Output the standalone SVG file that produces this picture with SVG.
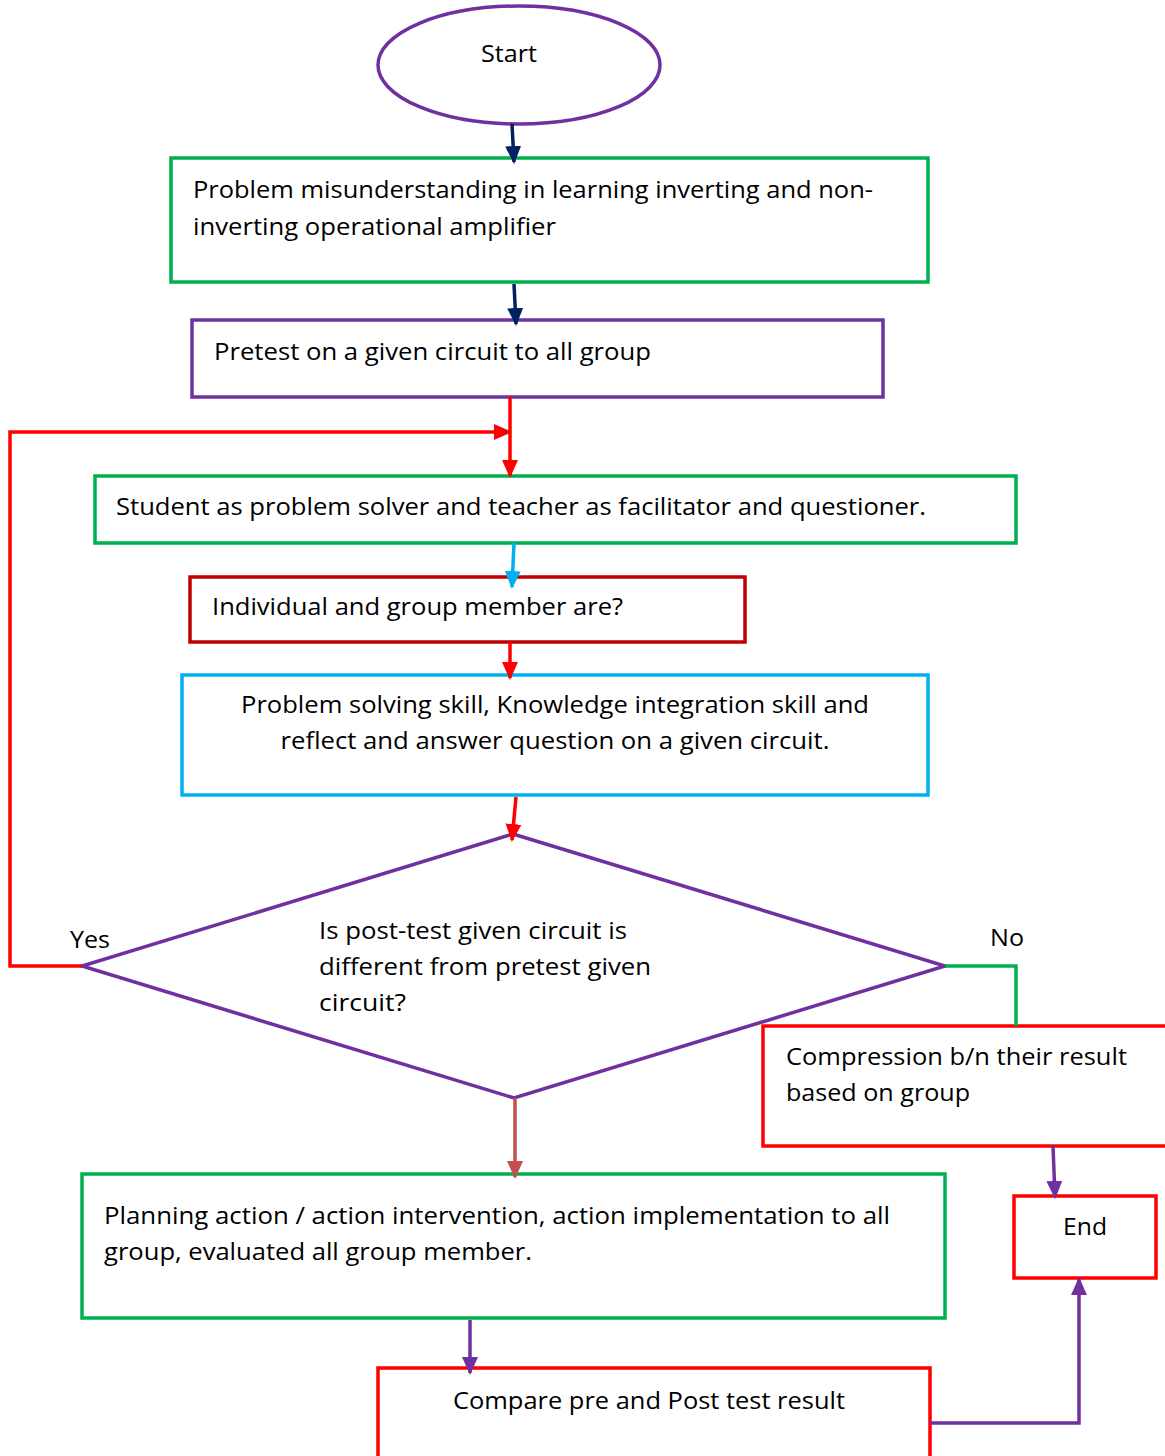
<svg xmlns="http://www.w3.org/2000/svg" width="1165" height="1456" viewBox="0 0 1165 1456">
<defs>
<style>
text{font-family:"Open Sans","Noto Sans",sans-serif;font-size:24px;fill:#000}
.n{fill:#fff;stroke-width:3.5}
.c{fill:none;stroke-width:3.5}
</style>
<marker id="aN" markerWidth="18" markerHeight="18" refX="16" refY="9" orient="auto" markerUnits="userSpaceOnUse"><path d="M0,1 L18,9 L0,17 z" fill="#002060"/></marker>
<marker id="aR" markerWidth="18" markerHeight="18" refX="16" refY="9" orient="auto" markerUnits="userSpaceOnUse"><path d="M0,1 L18,9 L0,17 z" fill="#FF0000"/></marker>
<marker id="aC" markerWidth="18" markerHeight="18" refX="16" refY="9" orient="auto" markerUnits="userSpaceOnUse"><path d="M0,1 L18,9 L0,17 z" fill="#00B0F0"/></marker>
<marker id="aP" markerWidth="18" markerHeight="18" refX="16" refY="9" orient="auto" markerUnits="userSpaceOnUse"><path d="M0,1 L18,9 L0,17 z" fill="#7030A0"/></marker>
<marker id="aB" markerWidth="18" markerHeight="18" refX="16" refY="9" orient="auto" markerUnits="userSpaceOnUse"><path d="M0,1 L18,9 L0,17 z" fill="#C0504D"/></marker>
</defs>
<rect width="1165" height="1456" fill="#fff"/>
<g id="start"><ellipse class="n" cx="519" cy="65" rx="141" ry="59" stroke="#7030A0"/><text x="509" y="62" text-anchor="middle" textLength="56" lengthAdjust="spacingAndGlyphs">Start</text></g>
<g id="problem"><rect class="n" x="171" y="158" width="757" height="124" stroke="#00B050"/><text x="193" y="198" textLength="680" lengthAdjust="spacingAndGlyphs">Problem misunderstanding in learning inverting and non-</text><text x="193" y="235" textLength="363" lengthAdjust="spacingAndGlyphs">inverting operational amplifier</text></g>
<g id="pretest"><rect class="n" x="192" y="320" width="691" height="77" stroke="#7030A0"/><text x="214" y="360" textLength="437" lengthAdjust="spacingAndGlyphs">Pretest on a given circuit to all group</text></g>
<g id="student"><rect class="n" x="95" y="476" width="921" height="67" stroke="#00B050"/><text x="116" y="515" textLength="810" lengthAdjust="spacingAndGlyphs">Student as problem solver and teacher as facilitator and questioner.</text></g>
<g id="individual"><rect class="n" x="190" y="577" width="555" height="65" stroke="#C00000"/><text x="212" y="615" textLength="411" lengthAdjust="spacingAndGlyphs">Individual and group member are?</text></g>
<g id="skills"><rect class="n" x="182" y="675" width="746" height="120" stroke="#00B0F0"/><text x="555" y="713" text-anchor="middle" textLength="628" lengthAdjust="spacingAndGlyphs">Problem solving skill, Knowledge integration skill and</text><text x="555" y="749" text-anchor="middle" textLength="549" lengthAdjust="spacingAndGlyphs">reflect and answer question on a given circuit.</text></g>
<g id="decision"><polygon class="n" points="513,834 945,966 514,1098 82,966" stroke="#7030A0"/><text x="319" y="939" textLength="308" lengthAdjust="spacingAndGlyphs">Is post-test given circuit is</text><text x="319" y="975" textLength="332" lengthAdjust="spacingAndGlyphs">different from pretest given</text><text x="319" y="1011" textLength="87" lengthAdjust="spacingAndGlyphs">circuit?</text></g>
<g id="compression"><rect class="n" x="763" y="1026" width="420" height="120" stroke="#FF0000"/><text x="786" y="1065" textLength="341" lengthAdjust="spacingAndGlyphs">Compression b/n their result</text><text x="786" y="1101" textLength="184" lengthAdjust="spacingAndGlyphs">based on group</text></g>
<g id="end"><rect class="n" x="1014" y="1196" width="142" height="82" stroke="#FF0000"/><text x="1085" y="1235" text-anchor="middle" textLength="44" lengthAdjust="spacingAndGlyphs">End</text></g>
<g id="planning"><rect class="n" x="82" y="1174" width="863" height="144" stroke="#00B050"/><text x="104" y="1224" textLength="786" lengthAdjust="spacingAndGlyphs">Planning action / action intervention, action implementation to all</text><text x="104" y="1260" textLength="428" lengthAdjust="spacingAndGlyphs">group, evaluated all group member.</text></g>
<g id="compare"><rect class="n" x="378" y="1368" width="552" height="110" stroke="#FF0000"/><text x="649" y="1409" text-anchor="middle" textLength="392" lengthAdjust="spacingAndGlyphs">Compare pre and Post test result</text></g>
<g id="connectors">
<line class="c" x1="512" y1="124" x2="514" y2="162" stroke="#002060" marker-end="url(#aN)"/>
<line class="c" x1="514" y1="284" x2="516" y2="324" stroke="#002060" marker-end="url(#aN)"/>
<line class="c" x1="510" y1="397" x2="510" y2="476" stroke="#FF0000" marker-end="url(#aR)"/>
<polyline class="c" points="82,966 10,966 10,432 510,432" stroke="#FF0000" marker-end="url(#aR)"/>
<line class="c" x1="514" y1="543" x2="512" y2="587" stroke="#00B0F0" marker-end="url(#aC)"/>
<line class="c" x1="510" y1="642" x2="510" y2="678" stroke="#FF0000" marker-end="url(#aR)"/>
<line class="c" x1="516" y1="797" x2="512" y2="840" stroke="#FF0000" marker-end="url(#aR)"/>
<polyline class="c" points="945,966 1016,966 1016,1026" stroke="#00B050"/>
<line class="c" x1="1053" y1="1146" x2="1055" y2="1197" stroke="#7030A0" marker-end="url(#aP)"/>
<line class="c" x1="515" y1="1098" x2="515" y2="1177" stroke="#C0504D" marker-end="url(#aB)"/>
<line class="c" x1="470" y1="1320" x2="470" y2="1373" stroke="#7030A0" marker-end="url(#aP)"/>
<polyline class="c" points="930,1423 1079,1423 1079,1279" stroke="#7030A0" marker-end="url(#aP)"/>
<text x="70" y="948" textLength="40" lengthAdjust="spacingAndGlyphs">Yes</text>
<text x="990" y="946" textLength="34" lengthAdjust="spacingAndGlyphs">No</text>
</g>
</svg>
